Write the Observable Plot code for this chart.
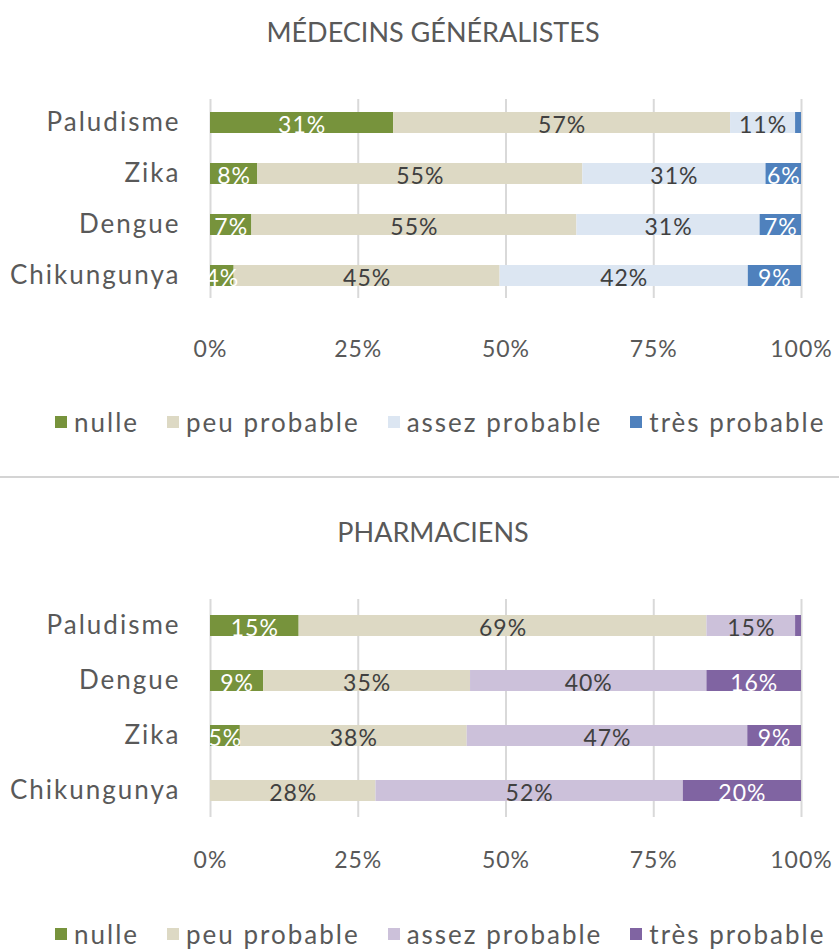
<!DOCTYPE html>
<html>
<head>
<meta charset="utf-8">
<script src="https://cdn.jsdelivr.net/npm/d3@7"></script>
<script src="https://cdn.jsdelivr.net/npm/@observablehq/plot@0.6"></script>
<style>
  body { margin: 0; background: #fff; }
  #wrap { position: relative; width: 839px; height: 950px; font-family: Lato, "Open Sans", sans-serif; color: #595959; overflow: hidden; }
  .title { position: absolute; left: 0; width: 866px; text-align: center; font-size: 27px; line-height: 1; }
  .legend { position: absolute; left: 55px; display: flex; align-items: center; font-size: 26px; letter-spacing: 2px; line-height: 1; white-space: nowrap; }
  .legend .item { display: flex; align-items: center; margin-right: 28px; }
  .legend .sw { width: 12px; height: 12px; margin-right: 7px; }
  .sep { position: absolute; left: 0; top: 476px; width: 839px; height: 2px; background: #d4d4d4; }
  .plot g[aria-label="y-axis tick label"] { letter-spacing: 2px; }
  .plot g[aria-label="x-axis tick label"] { letter-spacing: 1px; }
  .plot g[aria-label="text"] { letter-spacing: 1px; }
</style>
</head>
<body>
<div id="wrap"></div>
<script>
// ---- data ----
const levels = ["nulle", "peu probable", "assez probable", "très probable"];

const titleMG = "MÉDECINS GÉNÉRALISTES";
const categoriesMG = ["Paludisme", "Zika", "Dengue", "Chikungunya"];
const mgNulle = [31, 8, 7, 4];
const mgPeu = [57, 55, 55, 45];
const mgAssez = [11, 31, 31, 42];
const mgTres = [1, 6, 7, 9];
const colorsMG = ["#77933C", "#DDD9C4", "#DCE6F2", "#4F81BD"];

const titlePH = "PHARMACIENS";
const categoriesPH = ["Paludisme", "Dengue", "Zika", "Chikungunya"];
const phNulle = [15, 9, 5, 0];
const phPeu = [69, 35, 38, 28];
const phAssez = [15, 40, 47, 52];
const phTres = [1, 16, 9, 20];
const colorsPH = ["#77933C", "#DDD9C4", "#CCC1DA", "#8064A2"];

const xTicks = [0, 0.25, 0.5, 0.75, 1];
const whiteLabelLevels = ["nulle", "très probable"];

// ---- build ----
function rowsFrom(categories, series) {
  const rows = [];
  categories.forEach((cat, i) => {
    levels.forEach((lev, j) => rows.push({cat, level: lev, value: series[j][i]}));
  });
  return rows;
}

const FONT = "Lato, 'Open Sans', sans-serif";

function chart(rows, categories, colors, opts) {
  const stackOpts = (extra) => Plot.stackX({x: "value", y: "cat", z: "level", offset: "normalize", order: levels, ...extra});
  return Plot.plot({
    width: 839,
    height: opts.height,
    marginTop: opts.marginTop,
    marginBottom: opts.marginBottom,
    marginLeft: 210,
    marginRight: 38,
    style: {fontFamily: FONT, color: "#595959", background: "transparent", overflow: "visible"},
    x: {domain: [0, 1], axis: null},
    y: {domain: categories, paddingInner: opts.pi, paddingOuter: opts.po, axis: null},
    color: {domain: levels, range: colors},
    marks: [
      Plot.gridX(xTicks, {stroke: "#d9d9d9", strokeOpacity: 1, strokeWidth: 2}),
      Plot.barX(rows, stackOpts({fill: "level"})),
      Plot.text(rows, stackOpts({
        text: d => (whiteLabelLevels.includes(d.level) && d.value >= 3) ? d.value + "%" : "",
        fill: "white", fontSize: 23, dy: 3
      })),
      Plot.text(rows, stackOpts({
        text: d => (!whiteLabelLevels.includes(d.level) && d.value >= 3) ? d.value + "%" : "",
        fill: "#404040", fontSize: 23, dy: 3
      })),
      Plot.axisY({tickSize: 0, tickPadding: 30, fontSize: 26, fill: "#595959", label: null}),
      Plot.axisX({ticks: xTicks, tickFormat: d => Math.round(d * 100) + "%", tickSize: 0, tickPadding: opts.xPad, fontSize: 23, fill: "#595959", label: null})
    ]
  });
}

const wrap = document.getElementById("wrap");

function addTitle(text, top) {
  const t = document.createElement("div");
  t.className = "title";
  t.style.top = top + "px";
  t.textContent = text;
  wrap.appendChild(t);
}
function addLegend(colors, top) {
  const lg = document.createElement("div");
  lg.className = "legend";
  lg.style.top = top + "px";
  levels.forEach((lev, i) => {
    const it = document.createElement("div");
    it.className = "item";
    const sw = document.createElement("span");
    sw.className = "sw";
    sw.style.background = colors[i];
    const lb = document.createElement("span");
    lb.textContent = lev;
    it.appendChild(sw); it.appendChild(lb);
    lg.appendChild(it);
  });
  wrap.appendChild(lg);
}
function addPlot(svg, top) {
  svg.classList.add("plot");
  svg.style.position = "absolute";
  svg.style.top = top + "px";
  svg.style.left = "0px";
  wrap.appendChild(svg);
}

addTitle(titleMG, 18);
addPlot(chart(rowsFrom(categoriesMG, [mgNulle, mgPeu, mgAssez, mgTres]), categoriesMG, colorsMG,
  {height: 290, marginTop: 19, marginBottom: 72, pi: 0.595, po: 0.22, xPad: 42}), 80);
addLegend(colorsMG, 409);

const sep = document.createElement("div");
sep.className = "sep";
wrap.appendChild(sep);

addTitle(titlePH, 518);
addPlot(chart(rowsFrom(categoriesPH, [phNulle, phPeu, phAssez, phTres]), categoriesPH, colorsPH,
  {height: 310, marginTop: 19, marginBottom: 73, pi: 0.618, po: 0.29, xPad: 34}), 580);
addLegend(colorsPH, 921);
</script>
</body>
</html>
